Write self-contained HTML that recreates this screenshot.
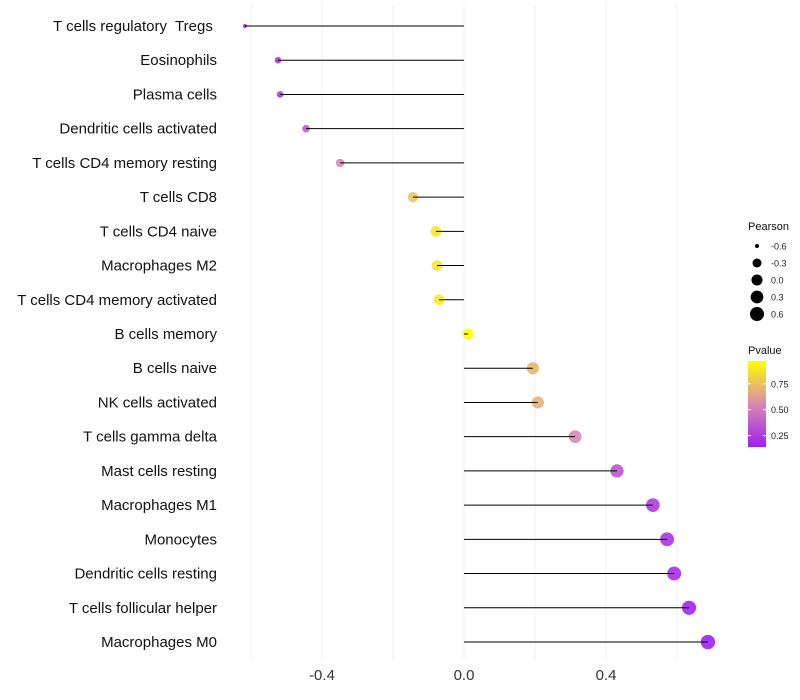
<!DOCTYPE html>
<html><head><meta charset="utf-8"><style>
body{margin:0;background:#fff;}
svg{display:block;font-family:"Liberation Sans",sans-serif;}
</style></head><body>
<svg id="chart" width="800" height="700">
  <g id="grid"></g>
  <g id="marks"></g>
  <g id="ylabels"></g>
  <g id="xlabels"></g>
  <g id="legend"></g>
</svg>
<script>
const categories=["T cells regulatory  Tregs ","Eosinophils","Plasma cells","Dendritic cells activated","T cells CD4 memory resting","T cells CD8","T cells CD4 naive","Macrophages M2","T cells CD4 memory activated","B cells memory","B cells naive","NK cells activated","T cells gamma delta","Mast cells resting","Macrophages M1","Monocytes","Dendritic cells resting","T cells follicular helper","Macrophages M0"];
const pearson=[-0.617,-0.524,-0.518,-0.445,-0.349,-0.144,-0.079,-0.076,-0.070,0.011,0.194,0.208,0.313,0.431,0.532,0.572,0.592,0.634,0.687];
const pvalue=[0.12,0.22,0.25,0.38,0.55,0.76,0.88,0.88,0.90,0.97,0.72,0.70,0.55,0.35,0.25,0.22,0.20,0.15,0.12];
const xTicks=[-0.4,0.0,0.4];
const xTickLabels=["-0.4","0.0","0.4"];
const xMinor=[-0.6,-0.2,0.2,0.6];
const sizeBreaks=[-0.6,-0.3,0.0,0.3,0.6];
const sizeLabels=["-0.6","-0.3","0.0","0.3","0.6"];
const pBreaks=[0.25,0.5,0.75];
const pLabels=["0.25","0.50","0.75"];

const NS="http://www.w3.org/2000/svg";
function mk(tag,attrs,parent){const e=document.createElementNS(NS,tag);for(const k in attrs)e.setAttribute(k,attrs[k]);parent.appendChild(e);return e;}
const xs=v=>464+v*355;
const ys=i=>26+i*(642-26)/(categories.length-1);
const rs=v=>{const t=(v+0.6)/1.2;return 2+5*Math.sqrt(Math.max(0,t));};
const pmin=0.14,pmax=0.97;
function col(p){let t=(p-pmin)/(pmax-pmin);t=Math.max(0,Math.min(1,t));
 const a=[160,32,240],b=[255,255,0],m=[218,136,176];
 let c; if(t<0.5){const u=t*2;c=a.map((x,i)=>x+(m[i]-x)*u);}else{const u=(t-0.5)*2;c=m.map((x,i)=>x+(b[i]-x)*u);}
 return `rgb(${c.map(Math.round).join(",")})`;}
const grid=document.getElementById('grid'),marks=document.getElementById('marks'),yl=document.getElementById('ylabels'),xl=document.getElementById('xlabels'),lg=document.getElementById('legend');
xMinor.concat(xTicks).forEach(v=>{const l=mk('line',{x1:xs(v),x2:xs(v),y1:5,y2:660,stroke:'#f2f2f2','stroke-width':1},grid);

});
xTicks.forEach((v,i)=>{const t=mk('text',{x:xs(v),y:680,'text-anchor':'middle','font-size':15,fill:'#333'},xl);t.textContent=xTickLabels[i];

});
categories.forEach((c,i)=>{
 const y=ys(i);
 const t=mk('text',{x:217,y:y+5,'text-anchor':'end','font-size':15,fill:'#111','xml:space':'preserve'},yl);t.textContent=c;
 t.style.whiteSpace='pre';
 
 
 const pt=mk('circle',{cx:xs(pearson[i]),cy:y,r:rs(pearson[i]),fill:col(pvalue[i]),'fill-opacity':0.9},marks);
 
 
 const ln=mk('line',{x1:xs(0),x2:xs(pearson[i]),y1:y,y2:y,stroke:'#000','stroke-width':1},marks);
 
 
});
let t=mk('text',{x:748,y:230,'font-size':11,fill:'#111'},lg);t.textContent='Pearson';


sizeBreaks.forEach((v,i)=>{const y=246+i*17;
 const c=mk('circle',{cx:757,cy:y,r:rs(v),fill:'#000'},lg);
 
 
 const tx=mk('text',{x:771,y:y+3.5,'font-size':9,fill:'#222'},lg);tx.textContent=sizeLabels[i];
 
 });
t=mk('text',{x:748,y:354,'font-size':11,fill:'#111'},lg);t.textContent='Pvalue';


const defs=mk('defs',{},lg);const g=mk('linearGradient',{id:'pg',x1:0,y1:1,x2:0,y2:0},defs);
for(let k=0;k<=10;k++){const p=pmin+(pmax-pmin)*k/10;mk('stop',{offset:k/10,'stop-color':col(p)},g);}
const bar=mk('rect',{x:748,y:361,width:18,height:86,fill:'url(#pg)'},lg);


const py=p=>447-(p-pmin)/(pmax-pmin)*86;
pBreaks.forEach((p,i)=>{const y=py(p);
 mk('line',{x1:748,x2:751,y1:y,y2:y,stroke:'#fff'},lg);mk('line',{x1:763,x2:766,y1:y,y2:y,stroke:'#fff'},lg);
 const tx=mk('text',{x:771,y:y+3.5,'font-size':9,fill:'#222'},lg);tx.textContent=pLabels[i];
 
 });
</script>
</body></html>
